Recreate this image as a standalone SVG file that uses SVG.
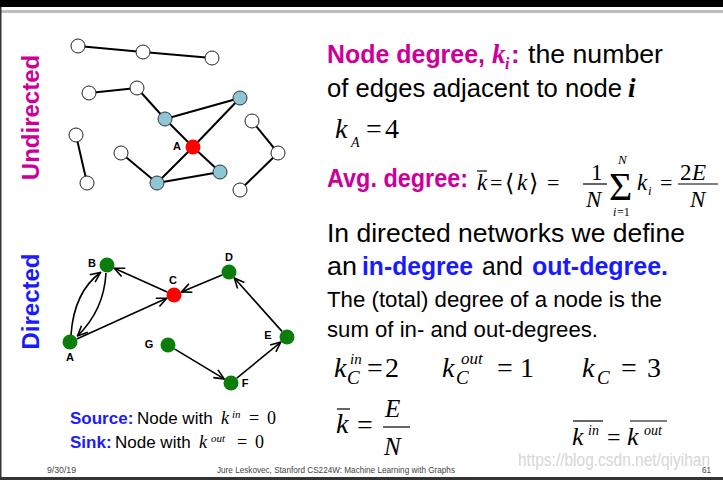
<svg xmlns="http://www.w3.org/2000/svg" width="723" height="480" viewBox="0 0 723 480">
<style>
.sans{font-family:"Liberation Sans",Arial,sans-serif}
.serif{font-family:"Liberation Serif","DejaVu Serif","Times New Roman",serif}
.mi{font-family:"Liberation Serif","DejaVu Serif","Times New Roman",serif;font-style:italic}
.mag{fill:#cc0099;font-weight:bold}
.blu{fill:#1a1aff;font-weight:bold}
.wn{fill:#ffffff;stroke:#222;stroke-width:1}
.bn{fill:#8fc6d6;stroke:#333;stroke-width:1}
.rn{fill:#ff0000}
.gn{fill:#0a7d0a}
.ue{stroke:#000;stroke-width:2;fill:none}
.de{stroke:#000;stroke-width:1.6;fill:none;marker-end:url(#arr)}
.lab{font-family:"Liberation Sans",Arial,sans-serif;font-weight:bold;font-size:11px;fill:#000}
.foot{font-family:"Liberation Sans",Arial,sans-serif;font-size:9px;fill:#444}
.bar{stroke:#000;stroke-width:1.2}
</style>
<defs>
<marker id="arr" markerUnits="userSpaceOnUse" markerWidth="12" markerHeight="12" viewBox="0 0 12 12" refX="11" refY="6" orient="auto">
<path d="M1,1.5 L11,6 L1,10.5" fill="none" stroke="#000" stroke-width="1.6"/>
</marker>
</defs>
<rect x="0" y="0" width="723" height="480" fill="#ffffff"/>
<rect x="0" y="0" width="723" height="7" fill="#000"/>
<rect x="0" y="10" width="723" height="3" fill="#bdbdbd"/>
<rect x="0" y="7" width="1.5" height="470" fill="#333"/>
<rect x="0" y="477" width="723" height="3" fill="#333"/>

<text class="sans" font-size="24" font-weight="bold" fill="#cc0099" text-anchor="middle" transform="translate(39,117.5) rotate(-90)">Undirected</text>
<text class="sans" font-size="24" font-weight="bold" fill="#1a1aff" text-anchor="middle" transform="translate(39,301.5) rotate(-90)">Directed</text>

<g id="connectors">
<g id="undirected-edges">
<line class="ue" x1="78" y1="46" x2="143" y2="52"/>
<line class="ue" x1="143" y1="52" x2="212" y2="58"/>
<line class="ue" x1="89" y1="93" x2="137" y2="88"/>
<line class="ue" x1="137" y1="88" x2="165" y2="119"/>
<line class="ue" x1="165" y1="119" x2="240" y2="98"/>
<line class="ue" x1="165" y1="119" x2="193" y2="147"/>
<line class="ue" x1="240" y1="98" x2="193" y2="147"/>
<line class="ue" x1="193" y1="147" x2="157" y2="183"/>
<line class="ue" x1="193" y1="147" x2="220" y2="172"/>
<line class="ue" x1="157" y1="183" x2="220" y2="172"/>
<line class="ue" x1="121" y1="153" x2="157" y2="183"/>
<line class="ue" x1="76" y1="135" x2="87" y2="183"/>
<line class="ue" x1="252" y1="121" x2="278" y2="153"/>
<line class="ue" x1="278" y1="153" x2="240" y2="190"/>
</g>
<g id="directed-edges">
<path class="de" d="M71,335 Q74,292 100.5,272.5"/>
<path class="de" d="M106,273 Q104,310 77.5,336"/>
<line class="de" x1="76.8" y1="338.9" x2="166.7" y2="298.3"/>
<line class="de" x1="167.2" y1="291.9" x2="114.3" y2="268.3"/>
<line class="de" x1="222.1" y1="274.9" x2="181.4" y2="291.9"/>
<line class="de" x1="282" y1="331.4" x2="234.3" y2="278"/>
<line class="de" x1="236.8" y1="378.2" x2="280.8" y2="342.1"/>
<line class="de" x1="174.4" y1="348.9" x2="224.2" y2="378.9"/>
</g>
</g>

<g id="u1"><circle class="wn" cx="78" cy="46" r="7"/></g>
<g id="u2"><circle class="wn" cx="143" cy="52" r="7"/></g>
<g id="u3"><circle class="wn" cx="212" cy="58" r="7"/></g>
<g id="u4"><circle class="wn" cx="89" cy="93" r="7"/></g>
<g id="u5"><circle class="wn" cx="137" cy="88" r="7"/></g>
<g id="u6"><circle class="bn" cx="165" cy="119" r="7"/></g>
<g id="u7"><circle class="bn" cx="240" cy="98" r="7"/></g>
<g id="uA"><circle class="rn" cx="193" cy="147" r="7.5"/><text class="lab" x="177" y="150" text-anchor="middle">A</text></g>
<g id="u8"><circle class="wn" cx="76" cy="135" r="7"/></g>
<g id="u9"><circle class="wn" cx="87" cy="183" r="7"/></g>
<g id="u10"><circle class="wn" cx="121" cy="153" r="7"/></g>
<g id="u11"><circle class="bn" cx="157" cy="183" r="7"/></g>
<g id="u12"><circle class="bn" cx="220" cy="172" r="7"/></g>
<g id="u13"><circle class="wn" cx="252" cy="121" r="7"/></g>
<g id="u14"><circle class="wn" cx="278" cy="153" r="7"/></g>
<g id="u15"><circle class="wn" cx="240" cy="190" r="7"/></g>

<g id="dA"><circle class="gn" cx="70" cy="342" r="7.5"/><text class="lab" x="70" y="361" text-anchor="middle">A</text></g>
<g id="dB"><circle class="gn" cx="107" cy="265" r="7.5"/><text class="lab" x="92" y="267" text-anchor="middle">B</text></g>
<g id="dC"><circle class="rn" cx="174" cy="295" r="7.5"/><text class="lab" x="173" y="284" text-anchor="middle">C</text></g>
<g id="dD"><circle class="gn" cx="229" cy="272" r="7.5"/><text class="lab" x="229" y="261" text-anchor="middle">D</text></g>
<g id="dE"><circle class="gn" cx="287" cy="337" r="7.5"/><text class="lab" x="268" y="339" text-anchor="middle">E</text></g>
<g id="dF"><circle class="gn" cx="231" cy="383" r="7.5"/><text class="lab" x="245" y="387" text-anchor="middle">F</text></g>
<g id="dG"><circle class="gn" cx="168" cy="345" r="7.5"/><text class="lab" x="149" y="348" text-anchor="middle">G</text></g>

<!-- Right side text -->
<text class="sans mag" x="327" y="63" font-size="26" textLength="158" lengthAdjust="spacingAndGlyphs">Node degree,</text>
<text class="mi" x="492" y="63" font-size="27" font-weight="bold" fill="#cc0099">k</text>
<text class="mi" x="505" y="69" font-size="16" font-weight="bold" fill="#cc0099">i</text>
<text class="sans mag" x="511" y="63" font-size="26">:</text>
<text class="sans" x="528" y="63" font-size="26" textLength="135" lengthAdjust="spacingAndGlyphs">the number</text>

<text class="sans" x="327" y="97" font-size="26" textLength="295" lengthAdjust="spacingAndGlyphs">of edges adjacent to node</text>
<text class="mi" x="628" y="97" font-size="27" font-weight="bold">i</text>

<text class="mi" x="335" y="138" font-size="28">k</text>
<text class="mi" x="351" y="147" font-size="14">A</text>
<text class="serif" x="366" y="138" font-size="28">=</text>
<text class="serif" x="385" y="138" font-size="28">4</text>

<text class="sans mag" x="327" y="187" font-size="26" textLength="141" lengthAdjust="spacingAndGlyphs">Avg. degree:</text>
<g id="avg-formula">
<line class="bar" x1="477" y1="171" x2="487" y2="171"/>
<text class="mi" x="477" y="190" font-size="23">k</text>
<text class="serif" x="490" y="190" font-size="22">=</text>
<text class="serif" x="505" y="191" font-size="24">⟨</text>
<text class="mi" x="517" y="190" font-size="23">k</text>
<text class="serif" x="529" y="191" font-size="24">⟩</text>
<text class="serif" x="547" y="190" font-size="22">=</text>
<text class="serif" x="591" y="180" font-size="23">1</text>
<line class="bar" x1="583" y1="184" x2="607" y2="184"/>
<text class="mi" x="586" y="207" font-size="23">N</text>
<text class="mi" x="618" y="164" font-size="13">N</text>
<text class="serif" x="609" y="200" font-size="40">Σ</text>
<text class="mi" x="613" y="216" font-size="12">i</text>
<text class="serif" x="617" y="216" font-size="12">=1</text>
<text class="mi" x="637" y="190" font-size="23">k</text>
<text class="mi" x="648" y="195" font-size="13">i</text>
<text class="serif" x="660" y="190" font-size="22">=</text>
<text class="serif" x="680" y="180" font-size="23">2</text>
<text class="mi" x="692" y="180" font-size="23">E</text>
<line class="bar" x1="678" y1="184" x2="718" y2="184"/>
<text class="mi" x="690" y="207" font-size="23">N</text>
</g>

<text class="sans" x="327" y="242" font-size="26" textLength="358" lengthAdjust="spacingAndGlyphs">In directed networks we define</text>
<text class="sans" x="327" y="275" font-size="26" textLength="30" lengthAdjust="spacingAndGlyphs">an</text>
<text class="sans blu" x="362" y="275" font-size="26" textLength="111" lengthAdjust="spacingAndGlyphs">in-degree</text>
<text class="sans" x="482" y="275" font-size="26" textLength="41" lengthAdjust="spacingAndGlyphs">and</text>
<text class="sans blu" x="532" y="275" font-size="26" textLength="136" lengthAdjust="spacingAndGlyphs">out-degree.</text>
<text class="sans" x="327" y="307" font-size="22" textLength="335" lengthAdjust="spacingAndGlyphs">The (total) degree of a node is the</text>
<text class="sans" x="327" y="337" font-size="22" textLength="271" lengthAdjust="spacingAndGlyphs">sum of in- and out-degrees.</text>

<g id="degree-values">
<text class="mi" x="334" y="377" font-size="28">k</text>
<text class="mi" x="350" y="364" font-size="15">in</text>
<text class="mi" x="347" y="384" font-size="19">C</text>
<text class="serif" x="367" y="377" font-size="28">=</text>
<text class="serif" x="385" y="377" font-size="28">2</text>

<text class="mi" x="442" y="377" font-size="28">k</text>
<text class="mi" x="461" y="364" font-size="17">out</text>
<text class="mi" x="456" y="384" font-size="19">C</text>
<text class="serif" x="497" y="377" font-size="28">=</text>
<text class="serif" x="520" y="377" font-size="28">1</text>

<text class="mi" x="582" y="377" font-size="28">k</text>
<text class="mi" x="597" y="384" font-size="19">C</text>
<text class="serif" x="621" y="377" font-size="28">=</text>
<text class="serif" x="647" y="377" font-size="28">3</text>
</g>

<g id="avg-directed">
<line class="bar" x1="337" y1="409" x2="350" y2="409"/>
<text class="mi" x="336" y="433" font-size="28">k</text>
<text class="serif" x="357" y="434" font-size="28">=</text>
<text class="mi" x="385" y="417" font-size="25">E</text>
<line class="bar" x1="383" y1="427" x2="410" y2="427"/>
<text class="mi" x="384" y="455" font-size="25">N</text>
</g>

<g id="in-out-avg">
<line class="bar" x1="573" y1="421" x2="603" y2="421"/>
<text class="mi" x="572" y="445" font-size="26">k</text>
<text class="mi" x="588" y="435" font-size="14">in</text>
<text class="serif" x="607" y="445" font-size="24">=</text>
<line class="bar" x1="630" y1="421" x2="667" y2="421"/>
<text class="mi" x="627" y="445" font-size="26">k</text>
<text class="mi" x="644" y="435" font-size="14">out</text>
</g>

<g id="source-sink">
<text class="sans blu" x="70" y="424" font-size="17">Source:</text>
<text class="sans" x="137" y="424" font-size="17">Node with</text>
<text class="mi" x="221" y="424" font-size="18">k</text>
<text class="mi" x="232" y="418" font-size="11">in</text>
<text class="serif" x="249" y="424" font-size="18">=</text>
<text class="serif" x="267" y="424" font-size="18">0</text>

<text class="sans blu" x="70" y="448" font-size="17">Sink:</text>
<text class="sans" x="115" y="448" font-size="17">Node with</text>
<text class="mi" x="199" y="448" font-size="18">k</text>
<text class="mi" x="211" y="442" font-size="11">out</text>
<text class="serif" x="237" y="448" font-size="18">=</text>
<text class="serif" x="255" y="448" font-size="18">0</text>
</g>

<text class="sans" x="518" y="466" font-size="19" fill="#d6d6d6" textLength="192" lengthAdjust="spacingAndGlyphs">https://blog.csdn.net/qiyihan</text>
<text class="foot" x="47" y="473" textLength="29" lengthAdjust="spacingAndGlyphs">9/30/19</text>
<text class="foot" x="217" y="473" textLength="238" lengthAdjust="spacingAndGlyphs">Jure Leskovec, Stanford CS224W: Machine Learning with Graphs</text>
<text class="foot" x="702" y="473" textLength="9" lengthAdjust="spacingAndGlyphs">61</text>
</svg>
